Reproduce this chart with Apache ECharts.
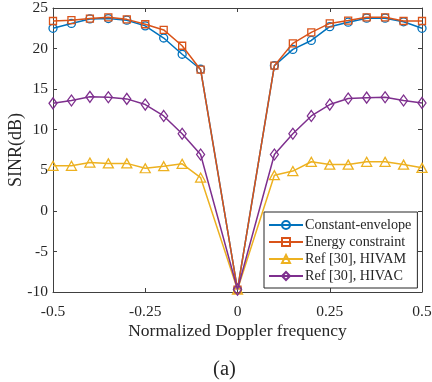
<!DOCTYPE html>
<html>
<head>
<meta charset="utf-8">
<script src="https://cdn.jsdelivr.net/npm/echarts@6/dist/echarts.min.js"></script>
<style>
  html, body { margin: 0; padding: 0; background: #fff; }
  #chart { width: 432px; height: 382px; }
</style>
</head>
<body>
<div id="chart"></div>
<script>
// Normalized Doppler frequency samples
const freqs = [-0.5, -0.45, -0.4, -0.35, -0.3, -0.25, -0.2, -0.15, -0.1, 0,
               0.1, 0.15, 0.2, 0.25, 0.3, 0.35, 0.4, 0.45, 0.5];

// SINR (dB) for each method
const constantEnvelope = [22.5, 23.1, 23.65, 23.7, 23.5, 22.8, 21.3, 19.3, 17.45, -9.7,
                          17.9, 19.9, 21.0, 22.7, 23.25, 23.75, 23.75, 23.3, 22.5];
const energyConstraint = [23.4, 23.5, 23.7, 23.85, 23.6, 23.0, 22.3, 20.35, 17.4, -9.7,
                          17.9, 20.65, 22.0, 23.1, 23.45, 23.85, 23.85, 23.4, 23.4];
const hivam = [5.55, 5.55, 5.95, 5.85, 5.85, 5.25, 5.5, 5.8, 4.1, -9.7,
               4.4, 4.9, 6.05, 5.7, 5.7, 6.05, 6.05, 5.7, 5.3];
const hivac = [13.25, 13.6, 14.05, 14.0, 13.8, 13.1, 11.7, 9.5, 6.95, -9.7,
               6.95, 9.5, 11.7, 13.1, 13.85, 13.95, 14.0, 13.6, 13.3];

const xTicks = [-0.5, -0.25, 0, 0.25, 0.5];
const yTicks = [-10, -5, 0, 5, 10, 15, 20, 25];

const seriesNames = ['Constant-envelope', 'Energy constraint', 'Ref [30], HIVAM', 'Ref [30], HIVAC'];
const seriesColors = ['#0072BD', '#D95319', '#EDB120', '#7E2F8E'];
const seriesSymbols = ['circle', 'rect', 'triangle', 'diamond'];
const symbolSizes = [8, 7, [10, 9], [8, 11]];
const seriesValues = [constantEnvelope, energyConstraint, hivam, hivac];

const textColor = '#262626';
const frameColor = '#404040';
const font = 'Liberation Serif';

const chart = echarts.init(document.getElementById('chart'), null, { renderer: 'canvas' });

const pairs = vals => freqs.map((f, i) => [f, vals[i]]);

const series = seriesValues.map((vals, k) => ({
  name: seriesNames[k],
  type: 'line',
  data: pairs(vals),
  xAxisIndex: 0,
  yAxisIndex: 0,
  symbol: seriesSymbols[k],
  symbolSize: symbolSizes[k],
  showAllSymbol: true,
  lineStyle: { color: seriesColors[k], width: 1.5 },
  itemStyle: { color: 'rgba(255,255,255,0)', borderColor: seriesColors[k], borderWidth: 1.3 },
  emphasis: { disabled: true },
  animation: false,
  z: 2 + k
}));

// Boxed frame: every axis line sits on the grid edge, ticks point inward
const axisCommon = () => ({
  axisLine: { show: true, onZero: false, lineStyle: { color: frameColor, width: 1 } },
  axisTick: { show: true, inside: true, length: 4, lineStyle: { color: frameColor } },
  splitLine: { show: false }
});

const option = {
  animation: false,
  backgroundColor: '#fff',
  textStyle: { fontFamily: font },
  grid: { left: 53, right: 10, top: 8, bottom: 90, containLabel: false, outerBoundsMode: 'none' },
  legend: {
    orient: 'vertical',
    left: 264,
    top: 212,
    width: 156,
    padding: [6, 6, 5, 4],
    itemGap: 3,
    itemWidth: 34,
    itemHeight: 10,
    backgroundColor: '#fff',
    borderColor: '#262626',
    borderWidth: 1,
    borderRadius: 0,
    textStyle: { fontFamily: font, fontSize: 14.2, color: textColor, padding: [0, 0, 0, -3] },
    data: seriesNames,
    selectedMode: false
  },
  xAxis: [
    Object.assign(axisCommon(), {
      type: 'value', min: -0.5, max: 0.5, interval: 0.25, position: 'bottom',
      name: 'Normalized Doppler frequency',
      nameLocation: 'middle', nameGap: 30, nameMoveOverlap: false,
      nameTextStyle: { fontFamily: font, fontSize: 17.5, color: textColor },
      axisLabel: {
        fontFamily: font, fontSize: 15.5, color: textColor, margin: 12,
        customValues: xTicks,
        formatter: v => String(v)
      }
    }),
    Object.assign(axisCommon(), {
      type: 'value', min: -0.5, max: 0.5, interval: 0.25, position: 'top',
      axisLabel: { show: false }
    })
  ],
  yAxis: [
    Object.assign(axisCommon(), {
      type: 'value', min: -10, max: 25, interval: 5, position: 'left',
      name: 'SINR(dB)',
      nameLocation: 'middle', nameGap: 28, nameMoveOverlap: false,
      nameTextStyle: { fontFamily: font, fontSize: 18, color: textColor },
      axisLabel: {
        fontFamily: font, fontSize: 15.5, color: textColor, margin: 5,
        customValues: yTicks
      }
    }),
    Object.assign(axisCommon(), {
      type: 'value', min: -10, max: 25, interval: 5, position: 'right',
      axisLabel: { show: false }
    })
  ],
  graphic: [{
    type: 'text',
    x: 224.5,
    y: 370,
    style: {
      text: '(a)', fontFamily: font, fontSize: 20.5, fill: textColor,
      align: 'center', verticalAlign: 'middle'
    }
  }],
  series: series
};

chart.setOption(option);
</script>
</body>
</html>
